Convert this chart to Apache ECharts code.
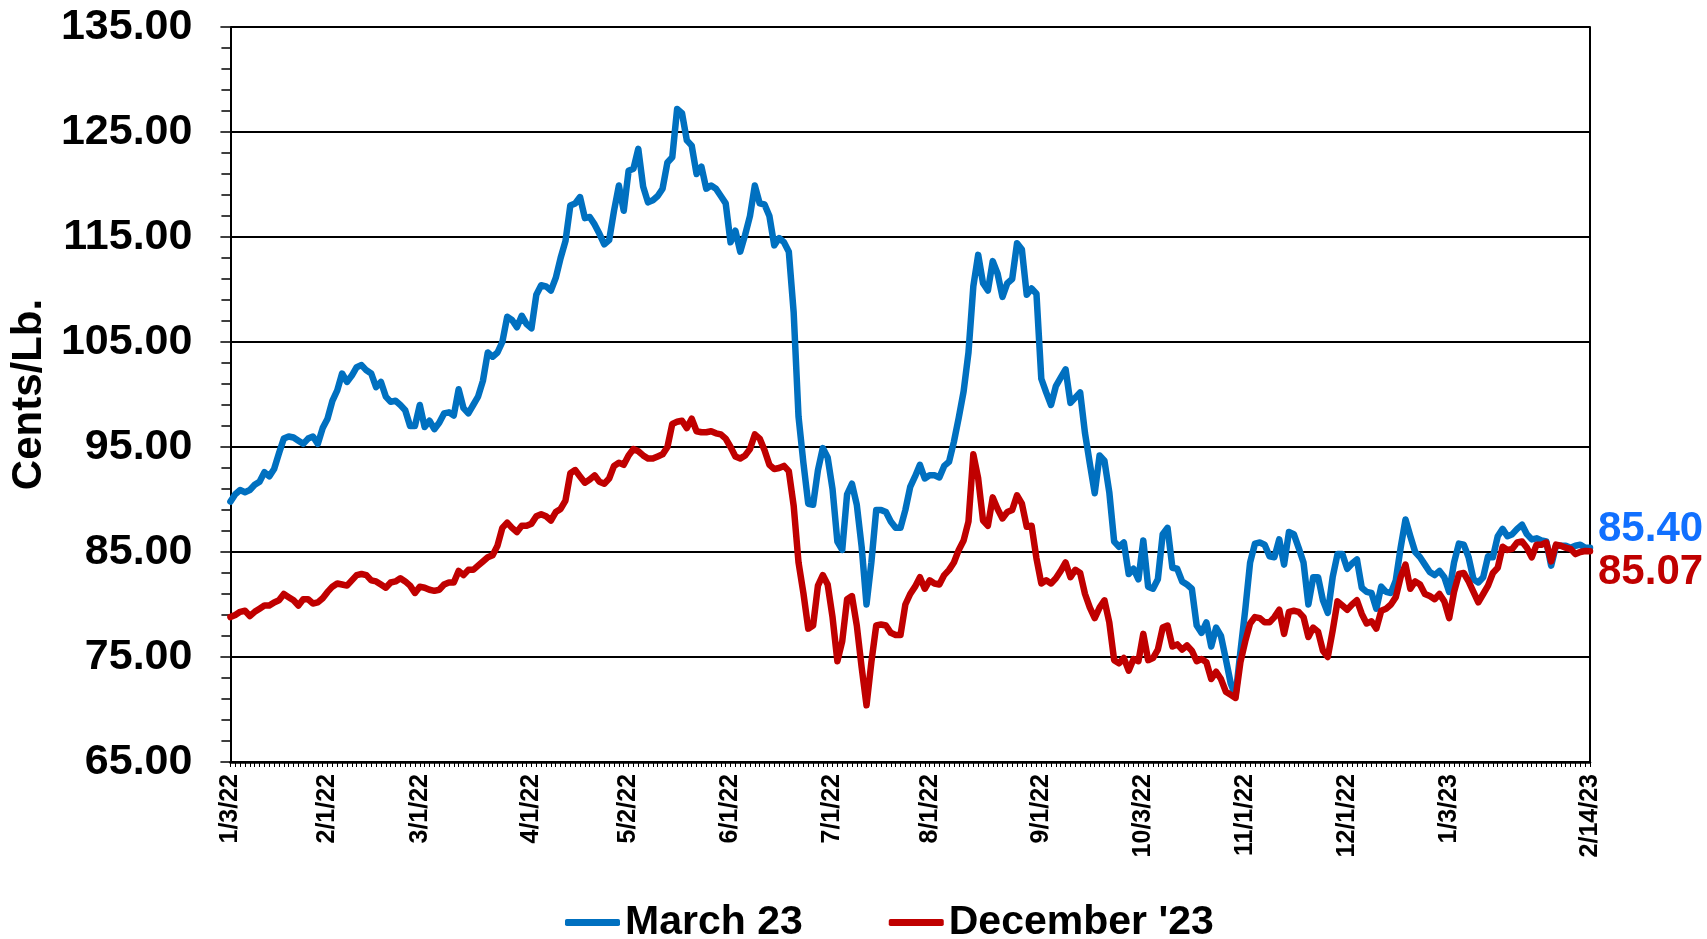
<!DOCTYPE html>
<html>
<head>
<meta charset="utf-8">
<script src="https://cdn.jsdelivr.net/npm/echarts@6/dist/echarts.min.js"></script>
<style>
  html, body { margin: 0; padding: 0; background: #ffffff; }
  #chart { width: 1707px; height: 939px; }
</style>
</head>
<body>
<div id="chart"></div>
<script>
// Exchange closures in the charted period (weekdays with no settlement)
const marketHolidays = [
  '2022-01-17', '2022-02-21', '2022-04-15', '2022-05-30', '2022-06-20',
  '2022-07-04', '2022-09-05', '2022-11-24', '2022-12-26', '2023-01-02', '2023-01-16'
];
const firstSession = '2022-01-03';
const lastSession = '2023-02-14';

// Dates printed under the x axis
const dateTickLabels = [
  '1/3/22', '2/1/22', '3/1/22', '4/1/22', '5/2/22', '6/1/22', '7/1/22',
  '8/1/22', '9/1/22', '10/3/22', '11/1/22', '12/1/22', '1/3/23', '2/14/23'
];

// Y axis scale (cents per pound)
const yMin = 65;
const yMax = 135;
const yStep = 10;

// Daily settlements, March '23 contract
const march23 = [
  89.8, 90.5, 90.9, 90.7, 90.9, 91.4, 91.7, 92.6, 92.2, 92.9,
  94.4, 95.8, 96.0, 95.9, 95.6, 95.3, 95.8, 96.0, 95.3, 96.8,
  97.7, 99.4, 100.4, 102.0, 101.2, 101.8, 102.6, 102.8, 102.3, 102.0,
  100.7, 101.2, 99.8, 99.3, 99.4, 99.0, 98.5, 97.0, 97.0, 99.0,
  96.9, 97.5, 96.7, 97.3, 98.2, 98.3, 98.0, 100.5, 98.7, 98.2,
  99.0, 99.8, 101.3, 104.0, 103.6, 104.0, 105.0, 107.4, 107.1, 106.4,
  107.5, 106.7, 106.3, 109.5, 110.4, 110.3, 109.9, 111.1, 113.0, 114.6,
  118.0, 118.2, 118.8, 116.8, 116.9, 116.2, 115.3, 114.3, 114.7, 117.5,
  119.9, 117.5, 121.3, 121.5, 123.4, 119.8, 118.3, 118.5, 118.9, 119.6,
  122.1, 122.6, 127.2, 126.8, 124.2, 123.7, 121.0, 121.7, 119.6, 119.9,
  119.6, 118.9, 118.2, 114.5, 115.6, 113.6, 115.2, 117.0, 119.9, 118.2,
  118.1, 117.0, 114.2, 114.9, 114.5, 113.6, 107.8, 97.9, 93.5, 89.6,
  89.5, 92.8, 94.9, 94.0, 91.0, 86.0, 85.2, 90.5, 91.5, 89.5,
  85.5, 80.0, 84.0, 89.0, 89.0, 88.8, 87.9, 87.3, 87.3, 89.0,
  91.2, 92.2, 93.3, 92.0, 92.3, 92.3, 92.1, 93.2, 93.6, 95.5,
  97.8, 100.3, 104.0, 110.3, 113.3, 110.6, 109.9, 112.7, 111.5, 109.3,
  110.6, 111.0, 114.4, 113.8, 109.5, 110.1, 109.6, 101.5, 100.2, 99.0,
  100.8, 101.6, 102.4, 99.2, 99.7, 100.2, 96.3, 93.4, 90.6, 94.2,
  93.7, 90.7, 86.0, 85.5, 85.9, 82.9, 83.4, 82.4, 86.1, 81.7,
  81.5, 82.4, 86.7, 87.3, 83.5, 83.4, 82.2, 81.9, 81.5, 78.0,
  77.3, 78.3, 76.0, 77.8, 77.0, 74.8, 72.5, 71.3, 75.5, 79.5,
  84.0, 85.8, 85.9, 85.7, 84.6, 84.5, 86.2, 83.8, 86.9, 86.7,
  85.4, 84.0, 80.0, 82.6, 82.6, 80.4, 79.2, 82.6, 84.8, 84.8,
  83.4, 83.9, 84.3, 81.6, 81.2, 81.1, 79.6, 81.7, 81.2, 81.1,
  82.3, 85.4, 88.1, 86.5, 85.0, 84.5, 83.8, 83.1, 82.8, 83.2,
  82.6, 81.2, 84.0, 85.8, 85.7, 84.5, 82.4, 82.1, 82.6, 84.6,
  84.5, 86.5, 87.2, 86.5, 86.7, 87.2, 87.6, 86.7, 86.2, 86.3,
  86.1, 86.0, 83.7, 85.6, 85.6, 85.6, 85.4, 85.6, 85.7, 85.4,
  85.40
];

// Daily settlements, December '23 contract
const december23 = [
  78.8, 79.0, 79.3, 79.4, 78.9, 79.3, 79.6, 79.9, 79.9, 80.2,
  80.4, 81.0, 80.7, 80.4, 79.9, 80.5, 80.5, 80.1, 80.2, 80.6,
  81.2, 81.7, 82.0, 81.9, 81.8, 82.3, 82.8, 82.9, 82.8, 82.3,
  82.2, 81.9, 81.6, 82.1, 82.2, 82.5, 82.2, 81.8, 81.1, 81.7,
  81.6, 81.4, 81.3, 81.4, 81.9, 82.1, 82.1, 83.2, 82.8, 83.3,
  83.3, 83.7, 84.1, 84.5, 84.7, 85.6, 87.3, 87.8, 87.3, 86.9,
  87.5, 87.5, 87.7, 88.4, 88.6, 88.4, 88.0, 88.8, 89.1, 89.9,
  92.5, 92.8, 92.2, 91.6, 91.9, 92.3, 91.7, 91.5, 92.0, 93.2,
  93.5, 93.3, 94.2, 94.8, 94.6, 94.2, 93.9, 93.9, 94.1, 94.3,
  95.0, 97.2, 97.4, 97.5, 96.8, 97.7, 96.5, 96.4, 96.4, 96.5,
  96.3, 96.2, 95.8, 95.0, 94.1, 93.9, 94.2, 94.8, 96.2, 95.8,
  94.7, 93.3, 92.9, 93.0, 93.2, 92.7, 89.4, 84.0, 81.1, 77.7,
  78.0, 81.8, 82.8, 81.9, 78.8, 74.6, 76.5, 80.5, 80.8, 78.0,
  74.0, 70.4, 74.5, 78.0, 78.1, 78.0, 77.3, 77.1, 77.1, 80.0,
  81.0, 81.7, 82.6, 81.5, 82.3, 82.0, 81.9, 82.8, 83.3, 84.0,
  85.2, 86.1, 87.9, 94.3, 92.0, 88.0, 87.5, 90.2, 89.1, 88.2,
  88.8, 89.0, 90.4, 89.6, 87.4, 87.5, 84.4, 82.0, 82.3, 82.0,
  82.5, 83.2, 84.0, 82.6, 83.3, 83.0, 81.0, 79.7, 78.7, 79.7,
  80.4, 78.3, 74.7, 74.4, 74.9, 73.7, 74.8, 74.6, 77.2, 74.7,
  74.9, 75.7, 77.8, 78.0, 76.0, 76.2, 75.7, 76.1, 75.6, 74.6,
  74.8, 74.5, 72.9, 73.6, 72.9, 71.7, 71.4, 71.1, 74.5, 76.5,
  78.2, 78.8, 78.7, 78.3, 78.3, 78.8, 79.5, 77.2, 79.3, 79.4,
  79.3, 78.8, 76.9, 77.8, 77.4, 75.6, 75.0, 77.5, 80.3, 79.9,
  79.5, 80.0, 80.4, 79.1, 78.2, 78.4, 77.7, 79.4, 79.6, 80.0,
  80.7, 82.6, 83.8, 81.5, 82.2, 81.9, 81.0, 80.8, 80.5, 81.0,
  80.3, 78.7, 81.2, 82.9, 83.0, 82.2, 81.2, 80.2, 81.0, 81.8,
  83.0, 83.5, 85.5, 85.2, 85.3, 85.9, 86.0, 85.4, 84.5, 85.7,
  85.7, 85.9, 84.1, 85.7, 85.6, 85.4, 85.3, 84.8, 85.0, 85.1,
  85.07
];

// Build the session calendar (M/D/YY) between two dates, skipping weekends and closures
function tradingDays(from, to, closed) {
  const out = [];
  const skip = new Set(closed);
  const d = new Date(from + 'T00:00:00Z');
  const end = new Date(to + 'T00:00:00Z');
  while (d <= end) {
    const wd = d.getUTCDay();
    const iso = d.toISOString().slice(0, 10);
    if (wd !== 0 && wd !== 6 && !skip.has(iso)) {
      out.push((d.getUTCMonth() + 1) + '/' + d.getUTCDate() + '/' + String(d.getUTCFullYear()).slice(2));
    }
    d.setUTCDate(d.getUTCDate() + 1);
  }
  return out;
}

const sessions = tradingDays(firstSession, lastSession, marketHolidays);
const shownDates = new Set(dateTickLabels);

const FONT = "'Liberation Sans', Arial, Helvetica, sans-serif";

const chart = echarts.init(document.getElementById('chart'), null, { renderer: 'canvas' });

chart.setOption({
  animation: false,
  backgroundColor: '#ffffff',
  textStyle: { fontFamily: FONT },
  grid: { left: 229, right: 117, top: 27, bottom: 177 },
  legend: {
    left: 560,
    top: 897,
    icon: 'roundRect',
    itemWidth: 55,
    itemHeight: 7,
    itemGap: 86,
    textStyle: { fontFamily: FONT, fontSize: 41, fontWeight: 'bold', color: '#000000' },
    data: ['March 23', "December '23"]
  },
  xAxis: {
    type: 'category',
    boundaryGap: false,
    data: sessions,
    axisLine: { show: true, lineStyle: { color: '#000000', width: 2.5 } },
    axisTick: { show: true, interval: 0, length: 5, lineStyle: { color: '#000000', width: 1 } },
    axisLabel: {
      interval: (idx, value) => shownDates.has(value),
      rotate: 90,
      margin: 12,
      fontFamily: FONT,
      fontSize: 25,
      fontWeight: 'bold',
      color: '#000000'
    },
    splitLine: { show: false }
  },
  yAxis: [
    {
      type: 'value',
      min: yMin,
      max: yMax,
      interval: yStep,
      name: 'Cents/Lb.',
      nameLocation: 'middle',
      nameRotate: 90,
      nameGap: 176,
      nameTextStyle: { fontFamily: FONT, fontSize: 42, fontWeight: 'bold', color: '#000000' },
      axisLine: { show: true, lineStyle: { color: '#000000', width: 2 } },
      axisTick: { show: true, inside: false, length: 10, lineStyle: { color: '#000000', width: 1.5 } },
      minorTick: { show: true, splitNumber: 5, length: 9, lineStyle: { color: '#000000', width: 1.5 } },
      axisLabel: {
        formatter: (v) => v.toFixed(2),
        margin: 38,
        fontFamily: FONT,
        fontSize: 43,
        fontWeight: 'bold',
        color: '#000000'
      },
      splitLine: { show: true, lineStyle: { color: '#000000', width: 2 } }
    },
    {
      type: 'value',
      position: 'right',
      min: yMin,
      max: yMax,
      interval: yStep,
      axisLine: { show: true, lineStyle: { color: '#000000', width: 2 } },
      axisTick: { show: false },
      axisLabel: { show: false },
      splitLine: { show: false }
    }
  ],
  series: [
    {
      name: 'March 23',
      type: 'line',
      data: march23,
      showSymbol: false,
      color: '#0070C0',
      lineStyle: { color: '#0070C0', width: 6.5, cap: 'round', join: 'round' },
      endLabel: {
        show: true,
        formatter: (p) => Number(p.value).toFixed(2),
        distance: 8,
        offset: [0, -18],
        fontFamily: FONT,
        fontSize: 42,
        fontWeight: 'bold',
        color: '#1170FF'
      },
      z: 2
    },
    {
      name: "December '23",
      type: 'line',
      data: december23,
      showSymbol: false,
      color: '#C00000',
      lineStyle: { color: '#C00000', width: 6.5, cap: 'round', join: 'round' },
      endLabel: {
        show: true,
        formatter: (p) => Number(p.value).toFixed(2),
        distance: 8,
        offset: [0, 21],
        fontFamily: FONT,
        fontSize: 42,
        fontWeight: 'bold',
        color: '#C00000'
      },
      z: 3
    }
  ]
});
</script>
</body>
</html>
